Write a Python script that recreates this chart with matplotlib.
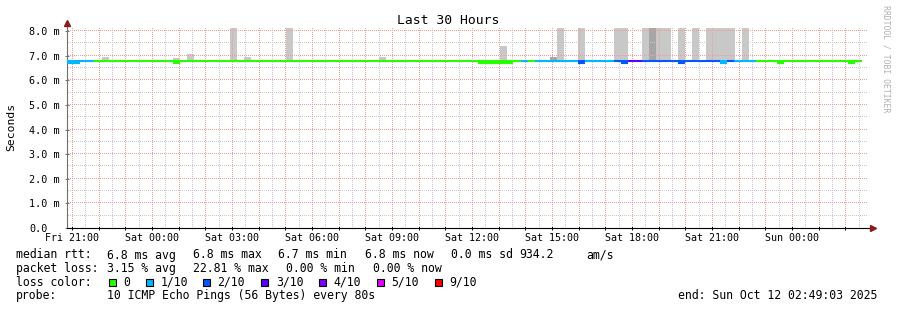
import matplotlib
matplotlib.use("Agg")
import matplotlib.pyplot as plt
import matplotlib.dates as mdates
from matplotlib.patches import Rectangle
import numpy as np
import pandas as pd

W, H = 897, 310

# graph window (30 hours up to the end stamp)
end_time = pd.Timestamp("2025-10-12 02:49:03")
start_time = end_time - pd.Timedelta(hours=30)
y_max = 8.13  # ms

# smoke: rtt spread per 16 min step
smoke_start = pd.to_datetime([
    "2025-10-10 22:08", "2025-10-11 00:48", "2025-10-11 01:19", "2025-10-11 02:56",
    "2025-10-11 03:27", "2025-10-11 05:02", "2025-10-11 08:31", "2025-10-11 13:03",
    "2025-10-11 14:56", "2025-10-11 15:12", "2025-10-11 15:59", "2025-10-11 17:20",
    "2025-10-11 18:23", "2025-10-11 18:39", "2025-10-11 18:55", "2025-10-11 19:44",
    "2025-10-11 20:15", "2025-10-11 20:47", "2025-10-11 22:08"])
smoke_steps = [1, 1, 1, 1, 1, 1, 1, 1, 1, 1, 1, 2, 1, 1, 2, 1, 1, 4, 1]
smoke_top = [6.94, 6.90, 7.06, 9.0, 6.94, 9.0, 6.94, 7.39, 6.94, 9.0,
             9.0, 9.0, 9.0, 9.0, 9.0, 9.0, 9.0, 9.0, 9.0]
smoke_dark = [0, 0, 0, 0, 0, 0, 0, 0, 1, 0, 0, 0, 0, 1, 0, 0, 0, 0, 0]
smoke_floor = 6.74

# median rtt, coloured by loss level
median_rtt = 6.77
loss_change = pd.to_datetime([
    "2025-10-10 20:49", "2025-10-10 21:50", "2025-10-11 13:50", "2025-10-11 14:06",
    "2025-10-11 14:22", "2025-10-11 15:59", "2025-10-11 16:15", "2025-10-11 17:20",
    "2025-10-11 17:52", "2025-10-11 18:23", "2025-10-11 21:18", "2025-10-11 21:34",
    "2025-10-11 21:50", "2025-10-11 22:39"])
loss_level = [1, 0, 1, 0, 1, 2, 1, 2, 3, 2, 1, 2, 1, 0]
line_end = pd.Timestamp("2025-10-12 02:38")

# steps where the median sat a bit lower
dip_start = pd.to_datetime([
    "2025-10-10 20:49", "2025-10-11 00:47", "2025-10-11 12:13", "2025-10-11 15:59",
    "2025-10-11 17:36", "2025-10-11 19:44", "2025-10-11 21:18", "2025-10-11 23:26",
    "2025-10-12 02:06"])
dip_end = pd.to_datetime([
    "2025-10-10 21:18", "2025-10-11 01:03", "2025-10-11 13:33", "2025-10-11 16:15",
    "2025-10-11 17:52", "2025-10-11 20:00", "2025-10-11 21:34", "2025-10-11 23:42",
    "2025-10-12 02:22"])
dip_rtt = 6.72

loss_names = ["0", "1/10", "2/10", "3/10", "4/10", "5/10", "9/10"]
loss_colors = ["#26ff00", "#00b8ff", "#0059ff", "#5e00ff", "#7e00ff", "#dd00ff", "#ff0000"]

plt.rcParams["font.family"] = ["DejaVu Sans Mono"]

fig = plt.figure(figsize=(W / 100, H / 100), dpi=100)
fig.patch.set_facecolor("white")
ax = fig.add_axes([67 / W, 1 - 228 / H, 800 / W, 200 / H])
t0, t1 = mdates.date2num(start_time), mdates.date2num(end_time)
ax.set_xlim(t0, t1)
ax.set_ylim(0, y_max)

# smoke
ax.bar(mdates.date2num(smoke_start), [t - smoke_floor for t in smoke_top],
       width=[n * 16 / 1440 for n in smoke_steps], bottom=smoke_floor, align="edge",
       color=["#a6a6a6" if d else "#c8c8c8" for d in smoke_dark], linewidth=0, zorder=1)

# grid drawn as single-pixel dots every other pixel (rrdtool look)
hours = mdates.date2num(pd.date_range(start_time.ceil("h"), end_time, freq="h"))
halves = mdates.date2num(pd.date_range(start_time.ceil("h") + pd.Timedelta(minutes=30),
                                       end_time, freq="h"))
px_t = (t1 - t0) / 800
px_v = y_max / 200
dot_x = np.arange(t0 + px_t, t1, 2 * px_t)
dot_y = np.arange(px_v, y_max, 2 * px_v)
minor_col, major_col = "#c8c8c8", "#f39a9a"

def dotted(xs, ys, col):
    ax.plot(xs, ys, ",", color=col, zorder=2)

for x in halves:
    dotted(np.full_like(dot_y, x), dot_y, minor_col)
for y in np.arange(0.5, 8, 1.0):
    dotted(dot_x, np.full_like(dot_x, y), minor_col)
for x in hours:
    dotted(np.full_like(dot_y, x), dot_y, major_col)
for y in range(1, 9):
    dotted(dot_x, np.full_like(dot_x, y), major_col)

# median line
seg_ends = list(loss_change[1:]) + [line_end]
for s, e, lv in zip(loss_change, seg_ends, loss_level):
    ax.hlines(median_rtt, mdates.date2num(s), mdates.date2num(e), color=loss_colors[lv],
              lw=1.5, zorder=3)
for s, e in zip(dip_start, dip_end):
    lv = loss_level[np.searchsorted(loss_change, s, side="right") - 1]
    ax.hlines(dip_rtt, mdates.date2num(s), mdates.date2num(e), color=loss_colors[lv],
              lw=1.5, zorder=3)

# axes lines and arrows
for sp in ax.spines.values():
    sp.set_visible(False)
ax.plot([0, 0], [0, 1.016], transform=ax.transAxes, color="#707070", lw=0.8, clip_on=False)
ax.plot([0, 1.004], [0, 0], transform=ax.transAxes, color="black", lw=0.8, clip_on=False)
ax.plot([0], [1.026], marker="^", ms=4, color="#8b1a1a", transform=ax.transAxes, clip_on=False)
ax.plot([1.0075], [0], marker=">", ms=4, color="#8b1a1a", transform=ax.transAxes, clip_on=False)

# ticks
ax.set_yticks(range(9), ["0.0"] + [f"{v}.0 m" for v in range(1, 9)], ha="left")
ax.tick_params(axis="y", direction="inout", length=3, width=0.7, color="#707070",
               pad=25.6, labelsize=7.3)
ax.xaxis.set_major_locator(mdates.HourLocator(byhour=range(0, 24, 3)))
ax.xaxis.set_minor_locator(mdates.HourLocator())
ax.xaxis.set_major_formatter(mdates.DateFormatter("%a %H:%M"))
ax.tick_params(axis="x", which="both", direction="inout", length=2.5, width=0.7,
               color="black", pad=2.5, labelsize=7.2)

# title / labels
def fx(x):
    return x / W

def fy(y):
    return 1 - y / H

fig.text(fx(447.8), fy(24), "Last 30 Hours", ha="center", va="baseline", fontsize=9.4)
fig.text(fx(11), fy(127), "Seconds", rotation=90, ha="center", va="center", fontsize=8.2)
fig.text(fx(886), fy(59), "RRDTOOL / TOBI OETIKER", rotation=270, ha="center",
         va="center", fontsize=5.9, color="#b0b0b0")

# legend block
fs = 8.3
rows = [
    (258.5, [(16, "median rtt:"), (107.3, "6.8 ms avg"), (192.7, "6.8 ms max"),
             (278, "6.7 ms min"), (365, "6.8 ms now"), (451, "0.0 ms sd"),
             (519, "934.2"), (586, "am/s")]),
    (272.1, [(16, "packet loss:"), (107.3, "3.15 % avg"), (192.7, "22.81 % max"),
             (286, "0.00 % min"), (372.7, "0.00 % now")]),
    (285.7, [(16, "loss color:")]),
    (299.3, [(16, "probe:"), (107.3, "10 ICMP Echo Pings (56 Bytes) every 80s"),
             (678.3, "end: Sun Oct 12 02:49:03 2025")]),
]
for yb, items in rows:
    for x, s in items:
        fig.text(fx(x), fy(yb), s, ha="left", va="baseline", fontsize=fs)

box_x = [109, 146, 203, 261, 319, 377, 435]
lab_x = [123.7, 160.3, 217.3, 276, 333.3, 391.3, 449.3]
for bx, lx, name, col in zip(box_x, lab_x, loss_names, loss_colors):
    fig.add_artist(Rectangle((fx(bx), fy(285.5)), 7 / W, 7 / H, transform=fig.transFigure,
                             facecolor=col, edgecolor="black", lw=0.8))
    fig.text(fx(lx), fy(285.7), name, ha="left", va="baseline", fontsize=fs)

fig.savefig("out.png", dpi=100, facecolor="white")
